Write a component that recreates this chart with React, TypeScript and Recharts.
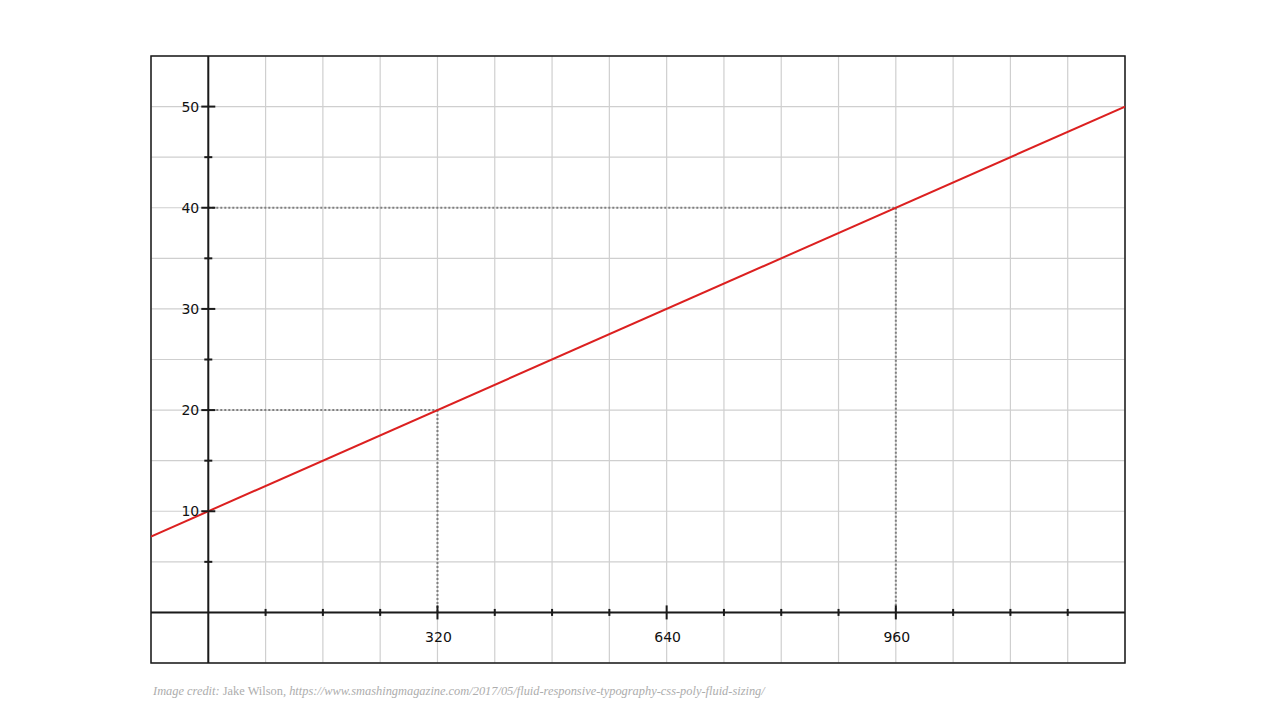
import React from 'react';
import {
  LineChart,
  Line,
  XAxis,
  YAxis,
  CartesianGrid,
  ReferenceLine,
  ReferenceDot,
  ReferenceArea
} from 'recharts';

// viewport width (px) vs font size (px)
const X_DOMAIN = [-80, 1280];
const Y_DOMAIN = [-5, 55];
const GRID_X = [-80, 0, 80, 160, 240, 320, 400, 480, 560, 640, 720, 800, 880, 960, 1040, 1120, 1200, 1280];
const GRID_Y = [-5, 0, 5, 10, 15, 20, 25, 30, 35, 40, 45, 50, 55];
const X_TICKS = [80, 160, 240, 320, 400, 480, 560, 640, 720, 800, 880, 960, 1040, 1120, 1200];
const X_LABELS = [320, 640, 960];
const Y_TICKS = [5, 10, 15, 20, 25, 30, 35, 40, 45, 50];
const Y_LABELS = [10, 20, 30, 40, 50];

const fontSizeLine = [
  { x: -80, y: 7.5 },
  { x: 1280, y: 50 }
];

// the two worked examples: 320px -> 20px, 960px -> 40px
const guidePoints = [
  { x: 320, y: 20 },
  { x: 960, y: 40 }
];

const AXIS_COLOR = '#1a1a1a';
const LABEL_FONT = '"DejaVu Sans", sans-serif';

const XTick = (props: any) => {
  const { cx, cy, label } = props;
  const len = label ? 7 : 3.5;
  return (
    <g>
      <line x1={cx} y1={cy - len} x2={cx} y2={cy + len} stroke={AXIS_COLOR} strokeWidth={2} />
      {label && (
        <text x={cx + 1} y={cy + 30} textAnchor="middle" fontSize={14} fontFamily={LABEL_FONT} fill="#111">
          {label}
        </text>
      )}
    </g>
  );
};

const YTick = (props: any) => {
  const { cx, cy, label } = props;
  const len = label ? 7 : 4;
  return (
    <g>
      <line x1={cx - len} y1={cy} x2={cx + len} y2={cy} stroke={AXIS_COLOR} strokeWidth={2} />
      {label && (
        <text x={cx - 9} y={cy + 5} textAnchor="end" fontSize={14} fontFamily={LABEL_FONT} fill="#111">
          {label}
        </text>
      )}
    </g>
  );
};

export default function App() {
  return (
    <div style={{ position: 'absolute', left: 0, top: 0, width: 1280, height: 720, background: '#fff' }}>
      <LineChart
        width={1280}
        height={720}
        data={fontSizeLine}
        margin={{ top: 56, right: 155, bottom: 57, left: 151 }}
      >
        <XAxis type="number" dataKey="x" domain={X_DOMAIN} ticks={GRID_X} hide allowDataOverflow />
        <YAxis type="number" domain={Y_DOMAIN} ticks={GRID_Y} hide allowDataOverflow />
        <CartesianGrid stroke="#cfcfcf" strokeWidth={1.2} />

        {guidePoints.map((p, i) => (
          <ReferenceLine
            key={`gh-${i}`}
            segment={[{ x: 0, y: p.y }, { x: p.x, y: p.y }]}
            stroke="#808080"
            strokeWidth={2}
            strokeDasharray="2 2"
          />
        ))}
        {guidePoints.map((p, i) => (
          <ReferenceLine
            key={`gv-${i}`}
            segment={[{ x: p.x, y: p.y }, { x: p.x, y: 0 }]}
            stroke="#808080"
            strokeWidth={2}
            strokeDasharray="2 2"
          />
        ))}

        <ReferenceLine x={0} stroke={AXIS_COLOR} strokeWidth={2} />
        <ReferenceLine y={0} stroke={AXIS_COLOR} strokeWidth={2} />

        {X_TICKS.map((t) => (
          <ReferenceDot
            key={`xt-${t}`}
            x={t}
            y={0}
            r={0}
            shape={(props: any) => <XTick {...props} label={X_LABELS.includes(t) ? String(t) : null} />}
          />
        ))}
        {Y_TICKS.map((t) => (
          <ReferenceDot
            key={`yt-${t}`}
            x={0}
            y={t}
            r={0}
            shape={(props: any) => <YTick {...props} label={Y_LABELS.includes(t) ? String(t) : null} />}
          />
        ))}

        <Line
          type="linear"
          dataKey="y"
          stroke="#dc2020"
          strokeWidth={2}
          dot={false}
          isAnimationActive={false}
        />

        <ReferenceArea
          x1={X_DOMAIN[0]}
          x2={X_DOMAIN[1]}
          y1={Y_DOMAIN[0]}
          y2={Y_DOMAIN[1]}
          fill="none"
          fillOpacity={0}
          stroke={AXIS_COLOR}
          strokeWidth={1.5}
        />
      </LineChart>
      <div
        style={{
          position: 'absolute',
          left: 153,
          top: 684,
          fontFamily: '"Liberation Serif", serif',
          fontSize: 12.4,
          color: '#adadad',
          whiteSpace: 'nowrap'
        }}
      >
        <i>Image credit:</i> Jake Wilson, <i>https://www.smashingmagazine.com/2017/05/fluid-responsive-typography-css-poly-fluid-sizing/</i>
      </div>
    </div>
  );
}
